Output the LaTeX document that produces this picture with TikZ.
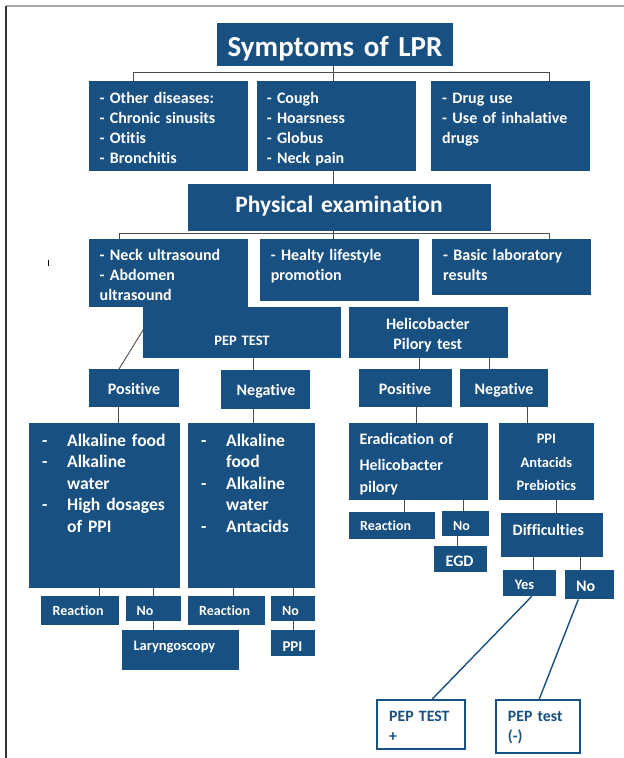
\documentclass[tikz,border=0pt]{standalone}
\usepackage{fontspec}
\setmainfont{Carlito}[Ligatures=NoCommon]
\usetikzlibrary{backgrounds}
\definecolor{lprblue}{RGB}{24,80,130}
\tikzset{
	box/.style={fill=lprblue, inner sep=0pt, anchor=north west},
	outbox/.style={box, fill=white, draw=lprblue, line width=1.5pt},
	lbl/.style={text=white, inner sep=0pt, anchor=base west, align=left, text width=150pt,
		font=\bfseries\fontsize{16}{20}\selectfont},
	clbl/.style={lbl, anchor=base, align=center},
	conn/.style={draw=black!70, line width=0.9pt},
	bconn/.style={draw=lprblue, line width=1.4pt}
}
\begin{document}
\begin{tikzpicture}[x=1pt, y=-1pt]
		\useasboundingbox (0,0) rectangle (624,758);
		\draw[gray!70, line width=1.6pt] (6,6) -- (624,6);
		\draw[black!80, line width=1.2pt] (6,6) -- (6,758);
		\draw[black, line width=0.6pt] (47.8,260) -- (47.8,266);
		% boxes
		\node[box, minimum width=236pt, minimum height=43pt] (title) at (217,23) {};
		\node[box, minimum width=159pt, minimum height=90pt] (othr) at (89,81) {};
		\node[box, minimum width=159pt, minimum height=90pt] (sympt) at (257,81) {};
		\node[box, minimum width=159pt, minimum height=90pt] (drug) at (431,81) {};
		\node[box, minimum width=303pt, minimum height=47pt] (physex) at (188,184) {};
		\node[box, minimum width=159pt, minimum height=68pt] (neck) at (89,239) {};
		\node[box, minimum width=159pt, minimum height=62pt] (life) at (260,239) {};
		\node[box, minimum width=159pt, minimum height=56pt] (lab) at (432,239) {};
		\node[box, minimum width=198pt, minimum height=51pt] (pep) at (143,307) {};
		\node[box, minimum width=159pt, minimum height=51pt] (hp) at (349,307) {};
		\node[box, minimum width=90pt, minimum height=38pt] (pepPos) at (89,369) {};
		\node[box, minimum width=89pt, minimum height=39pt] (pepNeg) at (221,370) {};
		\node[box, minimum width=93pt, minimum height=38pt] (hpPos) at (359,369) {};
		\node[box, minimum width=88pt, minimum height=38pt] (hpNeg) at (460,369) {};
		\node[box, minimum width=151pt, minimum height=165pt] (alkPos) at (29,423) {};
		\node[box, minimum width=127pt, minimum height=165pt] (alkNeg) at (188,423) {};
		\node[box, minimum width=139pt, minimum height=77pt] (erad) at (349,423) {};
		\node[box, minimum width=95pt, minimum height=77pt] (ppiA) at (499,423) {};
		\node[box, minimum width=78pt, minimum height=29pt] (reacPos) at (41,596) {};
		\node[box, minimum width=55pt, minimum height=25pt] (noPos) at (126,596) {};
		\node[box, minimum width=77pt, minimum height=29pt] (reacNeg) at (188,596) {};
		\node[box, minimum width=44pt, minimum height=25pt] (noNeg) at (271,596) {};
		\node[box, minimum width=117pt, minimum height=40pt] (laryn) at (122,630) {};
		\node[box, minimum width=44pt, minimum height=26pt] (ppiB) at (271,630) {};
		\node[box, minimum width=85.5pt, minimum height=27pt] (reacHp) at (349,512) {};
		\node[box, minimum width=47pt, minimum height=25pt] (noHp) at (442,511) {};
		\node[box, minimum width=53pt, minimum height=26pt] (egd) at (434,546) {};
		\node[box, minimum width=101.5pt, minimum height=44pt] (diff) at (501,513) {};
		\node[box, minimum width=52.5pt, minimum height=26pt] (yes) at (503,570) {};
		\node[box, minimum width=49pt, minimum height=29pt] (no) at (565,570) {};
		\node[outbox, minimum width=88pt, minimum height=49pt] (pepPlus) at (376,699) {};
		\node[outbox, minimum width=84pt, minimum height=53pt] (pepMinus) at (495,699) {};
		% texts
		\node[clbl, text width=240pt, font=\bfseries\fontsize{29}{35}\selectfont] (title-t) at (335,56.7) {Symptoms of LPR};
		\node[lbl] (othr-t) at (99.5,103.3) {- Other diseases:\\- Chronic sinusits\\- Otitis\\- Bronchitis};
		\node[lbl] (sympt-t) at (266.6,103.3) {- Cough\\- Hoarsness\\- Globus\\- Neck pain};
		\node[lbl] (drug-t) at (442,103.3) {- Drug use\\- Use of inhalative\\drugs};
		\node[clbl, text width=290pt, font=\bfseries\fontsize{23.5}{28}\selectfont] (physex-t) at (339,212.7) {Physical examination};
		\node[lbl] (neck-t) at (99.5,260.7) {- Neck ultrasound\\- Abdomen\\ultrasound};
		\node[lbl] (life-t) at (270.6,260.7) {- Healty lifestyle\\promotion};
		\node[lbl] (lab-t) at (443,260.7) {- Basic laboratory\\results};
		\node[clbl, font=\bfseries\fontsize{14.5}{18}\selectfont] (pep-t) at (242,345) {PEP TEST};
		\node[clbl] (hp-t) at (427.8,329.3) {Helicobacter\\Pilory test};
		\node[clbl] (pepPos-t) at (134,394.3) {Positive};
		\node[clbl] (pepNeg-t) at (266,395.3) {Negative};
		\node[clbl] (hpPos-t) at (405,394.3) {Positive};
		\node[clbl] (hpNeg-t) at (504,394.3) {Negative};
		\node[lbl, text width=140pt, font=\bfseries\fontsize{17.6}{21.6}\selectfont] (alkPos-t) at (42,446)
			{\makebox[25pt][l]{-}Alkaline food\\\makebox[25pt][l]{-}Alkaline\\\hspace*{25pt}water\\\makebox[25pt][l]{-}High dosages\\\hspace*{25pt}of PPI};
		\node[lbl, text width=110pt, font=\bfseries\fontsize{17.6}{21.6}\selectfont] (alkNeg-t) at (201,446)
			{\makebox[25pt][l]{-}Alkaline\\\hspace*{25pt}food\\\makebox[25pt][l]{-}Alkaline\\\hspace*{25pt}water\\\makebox[25pt][l]{-}Antacids};
		\node[lbl, text width=125pt] (erad-t) at (359.3,444.3) {Eradication of\\[5.7pt]Helicobacter\\[2.7pt]pilory};
		\node[clbl, text width=90pt, font=\bfseries\fontsize{14.5}{23.7}\selectfont] (ppiA-t) at (546.4,443.3) {PPI\\Antacids\\Prebiotics};
		\node[lbl, font=\bfseries\fontsize{14}{17}\selectfont] (reacPos-t) at (52.5,615) {Reaction};
		\node[lbl, font=\bfseries\fontsize{14}{17}\selectfont] (noPos-t) at (136.5,615) {No};
		\node[lbl, font=\bfseries\fontsize{14}{17}\selectfont] (reacNeg-t) at (199,615) {Reaction};
		\node[lbl, font=\bfseries\fontsize{14}{17}\selectfont] (noNeg-t) at (282,615) {No};
		\node[lbl, font=\bfseries\fontsize{14.5}{17}\selectfont] (laryn-t) at (133.3,650) {Laryngoscopy};
		\node[clbl, font=\bfseries\fontsize{15}{18}\selectfont] (ppiB-t) at (292.5,651) {PPI};
		\node[lbl, font=\bfseries\fontsize{14}{17}\selectfont] (reacHp-t) at (360,530) {Reaction};
		\node[clbl, font=\bfseries\fontsize{14}{17}\selectfont] (noHp-t) at (461.6,530) {No};
		\node[clbl] (egd-t) at (459.6,566.7) {EGD};
		\node[clbl] (diff-t) at (548.3,535) {Difficulties};
		\node[clbl, font=\bfseries\fontsize{14.5}{17}\selectfont] (yes-t) at (524.5,589.3) {Yes};
		\node[clbl] (no-t) at (585.7,591) {No};
		\node[lbl, text=lprblue, text width=80pt, font=\bfseries\fontsize{15.8}{19.5}\selectfont] (pepPlus-t) at (389,721.7) {PEP TEST\\+};
		\node[lbl, text=lprblue, text width=80pt, font=\bfseries\fontsize{15.8}{20}\selectfont] (pepMinus-t) at (507.7,721.7) {PEP test\\(-)};
		% connectors
		\begin{scope}[on background layer]
			\coordinate (barA) at (133,72);
			\coordinate (barB) at (549,72);
			\coordinate (barC) at (119,233);
			\coordinate (barD) at (549,233);
			\draw[conn] (othr.north -| barA) -- (barA) -- (barB) -- (drug.north -| barB);
			\draw[conn] (title.south -| 333.5,0) -- (sympt.north -| 333.5,0);
			\draw[conn] (sympt.south -| 333.5,0) -- (physex.north -| 333.5,0);
			\draw[conn] (neck.north -| barC) -- (barC) -- (barD) -- (lab.north -| barD);
			\draw[conn] (physex.south -| 333.5,0) -- (life.north -| 333.5,0);
			\draw[conn] (pepPos.north -| barC) -- (neck.south -| 157,0);
			\draw[conn] (pep.south -| 253,0) -- (pepNeg.north -| 253,0);
			\draw[conn] (hp.south -| 419,0) -- (hpPos.north -| 419,0);
			\draw[conn] (hp.south -| 489.5,0) -- (hpNeg.north -| 489.5,0);
			\draw[conn] (pepPos.south -| 118.6,0) -- (alkPos.north -| 118.6,0);
			\draw[conn] (pepNeg.south -| 253,0) -- (alkNeg.north -| 253,0);
			\draw[conn] (hpPos.south -| 416,0) -- (erad.north -| 416,0);
			\draw[conn] (hpNeg.south -| 527,0) -- (ppiA.north -| 527,0);
			\draw[conn] (alkPos.south -| 99.5,0) -- (reacPos.north -| 99.5,0);
			\draw[conn] (alkPos.south -| 153,0) -- (noPos.north -| 153,0);
			\draw[conn] (noPos.south -| 153,0) -- (laryn.north -| 153,0);
			\draw[conn] (alkNeg.south -| 233.6,0) -- (reacNeg.north -| 233.6,0);
			\draw[conn] (alkNeg.south -| 293,0) -- (noNeg.north -| 293,0);
			\draw[conn] (noNeg.south -| 293,0) -- (ppiB.north -| 293,0);
			\draw[conn] (erad.south -| 404,0) -- (reacHp.north -| 404,0);
			\draw[conn] (erad.south -| 463.6,0) -- (noHp.north -| 463.6,0);
			\draw[conn] (noHp.south -| 457,0) -- (egd.north -| 457,0);
			\draw[conn] (ppiA.south -| 556,0) -- (diff.north -| 556,0);
			\draw[conn] (diff.south -| 533.6,0) -- (yes.north -| 533.6,0);
			\draw[conn] (diff.south -| 580.6,0) -- (no.north -| 580.6,0);
			\draw[bconn] (yes.south -| 531.7,0) -- (pepPlus.north -| 432.3,0);
			\draw[bconn] (no.south -| 578.3,0) -- (pepMinus.north -| 539.3,0);
		\end{scope}
	\end{tikzpicture}
\end{document}
